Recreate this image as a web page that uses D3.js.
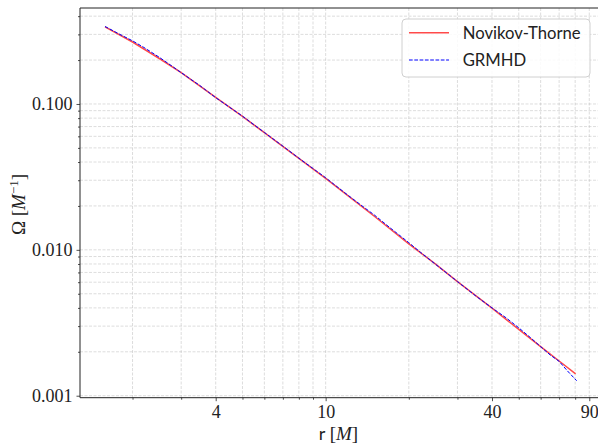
<!DOCTYPE html>
<html><head><meta charset="utf-8">
<script src="https://cdn.jsdelivr.net/npm/d3@7"></script>
<style>body{margin:0;background:#fff}svg{display:block}</style>
</head><body>
<svg id="c" width="598" height="445"></svg>
<script>
// Data
const ntR = [1.59, 2, 2.5, 3, 3.5, 4, 5, 6, 8, 10, 12, 15, 20, 25, 30, 40, 50, 60, 70, 80.3];
const ntOmega = [0.338, 0.266, 0.205, 0.164, 0.133, 0.111, 0.0822, 0.0636, 0.0424, 0.0309, 0.0236, 0.0170, 0.0110, 0.00797, 0.00605, 0.00398, 0.00285, 0.00217, 0.00173, 0.00141];
const grR = [1.59, 1.8, 2, 2.2, 2.5, 2.8, 3, 3.5, 4, 5, 6, 7, 8, 10, 12, 14, 15, 17, 20, 22, 25, 30, 35, 40, 45, 50, 55, 60, 65, 70, 75, 81];
const grOmega = [0.340, 0.300, 0.271, 0.244, 0.209, 0.180, 0.164, 0.134, 0.1105, 0.0825, 0.0638, 0.0514, 0.0425, 0.0312, 0.0238, 0.0191, 0.01735, 0.0143, 0.0112, 0.00965, 0.00796, 0.00606, 0.00482, 0.00400, 0.00342, 0.00292, 0.00251, 0.00217, 0.00190, 0.00172, 0.00148, 0.001266];
const xTicks = [4, 10, 40, 90];
const xTickLabels = ["4", "10", "40", "90"];
const yTicks = [0.001, 0.01, 0.1];
const yTickLabels = ["0.001", "0.010", "0.100"];
const seriesNames = ["Novikov-Thorne", "GRMHD"];

const svg = d3.select("#c");
const L = 80, R = 600, T = 8, B = 397.7;
const x = d3.scaleLog().domain([1.291, 98.4]).range([L, R]);
const y = d3.scaleLog().domain([0.000969, 0.455]).range([B, T]);

// minor tick values
const xMinor = [];
for (const d of [1, 10]) for (let k = 2; k <= 9; k++) { const v = k * d; if (v >= 1.291 && v <= 98.4) xMinor.push(v); }
const yMinor = [];
for (const d of [0.001, 0.01, 0.1]) for (let k = 1; k <= 9; k++) { const v = k * d; if (v >= 0.000969 && v <= 0.455) yMinor.push(v); }

// grid
const g = svg.append("g");
const gridVals = Array.from(new Set(xMinor.concat([10])));
g.selectAll("line.gx").data(gridVals).join("line")
  .attr("x1", d => x(d)).attr("x2", d => x(d)).attr("y1", T).attr("y2", B)
  .attr("stroke", "#b0b0b0").attr("stroke-opacity", 0.55).attr("stroke-width", 0.8).attr("stroke-dasharray", "3,1.5");
g.selectAll("line.gy").data(yMinor).join("line")
  .attr("x1", L).attr("x2", R).attr("y1", d => y(d)).attr("y2", d => y(d))
  .attr("stroke", "#b0b0b0").attr("stroke-opacity", 0.55).attr("stroke-width", 0.8).attr("stroke-dasharray", "3,1.5");

// lines
const line = d3.line().x(d => x(d[0])).y(d => y(d[1]));
svg.append("path").datum(ntR.map((r, i) => [r, ntOmega[i]]))
  .attr("d", line).attr("fill", "none").attr("stroke", "#ff4a4a").attr("stroke-width", 1.5);
svg.append("path").datum(grR.map((r, i) => [r, grOmega[i]]))
  .attr("d", line).attr("fill", "none").attr("stroke", "#0000ff").attr("stroke-width", 1).attr("stroke-dasharray", "3.7,1.6");

// axes
const tickFont = "'Liberation Serif', 'DejaVu Serif', serif";
function styleAxis(sel) {
  sel.select(".domain").remove();
  sel.selectAll(".tick line").attr("stroke", "#222").attr("stroke-width", 0.8);
  sel.selectAll(".tick text").attr("font-family", tickFont).attr("font-size", 18).attr("fill", "#222");
}
const xMinorAxis = d3.axisBottom(x).tickValues(xMinor.filter(v => !xTicks.includes(v))).tickSize(2).tickFormat("");
svg.append("g").attr("transform", `translate(0,${B})`).call(xMinorAxis).call(styleAxis);
const xAxis = d3.axisBottom(x).tickValues(xTicks).tickSize(3.5).tickPadding(4).tickFormat((d, i) => xTickLabels[i]);
svg.append("g").attr("transform", `translate(0,${B})`).call(xAxis).call(styleAxis);
const yMinorAxis = d3.axisLeft(y).tickValues(yMinor.filter(v => !yTicks.some(t => Math.abs(t - v) < 1e-9))).tickSize(2).tickFormat("");
svg.append("g").attr("transform", `translate(${L},0)`).call(yMinorAxis).call(styleAxis);
const yAxis = d3.axisLeft(y).tickValues(yTicks).tickSize(3.5).tickPadding(4).tickFormat((d, i) => yTickLabels[i]);
svg.append("g").attr("transform", `translate(${L},0)`).call(yAxis).call(styleAxis);

// spines
svg.append("line").attr("x1", L).attr("x2", L).attr("y1", T).attr("y2", B).attr("stroke", "#222").attr("stroke-width", 1);
svg.append("line").attr("x1", L).attr("x2", R).attr("y1", B).attr("y2", B).attr("stroke", "#222").attr("stroke-width", 1);
svg.append("line").attr("x1", L).attr("x2", R).attr("y1", T).attr("y2", T).attr("stroke", "#222").attr("stroke-width", 1);
svg.append("line").attr("x1", R).attr("x2", R).attr("y1", T).attr("y2", B).attr("stroke", "#222").attr("stroke-width", 1);

// axis labels
const xl = svg.append("text").attr("x", 338.5).attr("y", 440).attr("text-anchor", "middle").attr("fill", "#222").attr("font-size", 19);
xl.append("tspan").attr("font-family", "Lato, 'DejaVu Sans', sans-serif").attr("font-size", 18).text("r ");
xl.append("tspan").attr("font-family", tickFont).text("[");
xl.append("tspan").attr("font-family", tickFont).attr("font-style", "italic").text("M");
xl.append("tspan").attr("font-family", tickFont).text("]");

const yl = svg.append("text").attr("transform", "translate(25,204.5) rotate(-90)").attr("text-anchor", "middle")
  .attr("fill", "#222").attr("font-family", tickFont).attr("font-size", 19);
yl.append("tspan").text("Ω [");
yl.append("tspan").attr("font-style", "italic").text("M");
yl.append("tspan").attr("font-size", 13).attr("dy", -7).text("−1");
yl.append("tspan").attr("dy", 7).text("]");

// legend
const lg = svg.append("g");
lg.append("rect").attr("x", 402).attr("y", 19).attr("width", 188).attr("height", 58).attr("rx", 4)
  .attr("fill", "#fff").attr("fill-opacity", 0.85).attr("stroke", "#d0d0d0").attr("stroke-width", 1);
lg.append("line").attr("x1", 409).attr("x2", 449).attr("y1", 32.7).attr("y2", 32.7).attr("stroke", "#ff4a4a").attr("stroke-width", 1.5);
lg.append("line").attr("x1", 409).attr("x2", 449).attr("y1", 60).attr("y2", 60).attr("stroke", "#0000ff").attr("stroke-width", 1).attr("stroke-dasharray", "3.7,1.6");
const legFont = "Lato, 'DejaVu Sans', sans-serif";
const t1 = lg.append("text").attr("x", 462.7).attr("y", 39.3).attr("font-family", legFont).attr("font-size", 17.5).attr("fill", "#222").text(seriesNames[0]);
const w = t1.node().getComputedTextLength();
const fs = Math.min(18.5, 17.5 * 118 / w);
t1.attr("font-size", fs);
lg.append("text").attr("x", 462.7).attr("y", 66.3).attr("font-family", legFont).attr("font-size", fs).attr("fill", "#222").text(seriesNames[1]);
</script>
</body></html>
